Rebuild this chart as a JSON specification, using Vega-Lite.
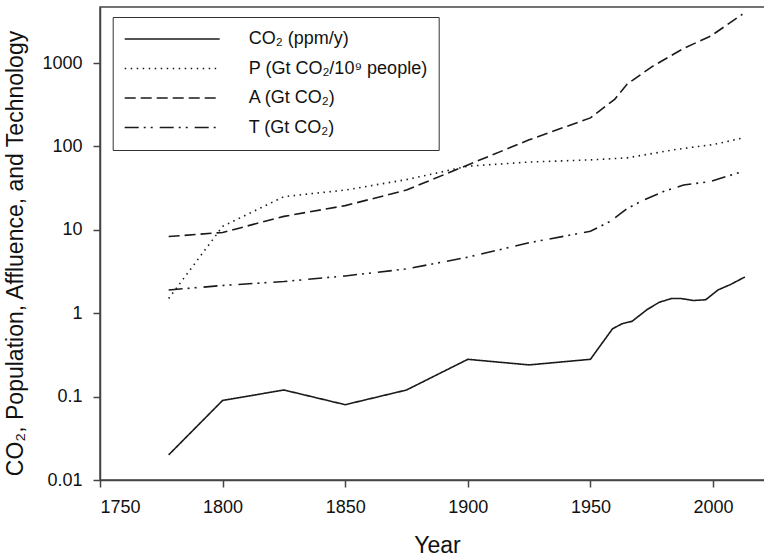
{
  "$schema": "https://vega.github.io/schema/vega-lite/v6.json",
  "autosize": "none",
  "padding": {"left": 100, "top": 7, "right": 0, "bottom": 77},
  "width": 665,
  "height": 473,
  "config": {
    "font": "Liberation Sans",
    "view": {"stroke": "#444", "strokeWidth": 1.5},
    "axis": {"grid": false, "domainColor": "#444", "domainWidth": 1.5, "tickColor": "#444", "tickWidth": 1.5, "tickSize": 7, "labelFontSize": 18, "labelColor": "#111", "titleColor": "#111", "titleFontWeight": "normal", "titleFontSize": 23, "labelFont": "Liberation Sans", "titleFont": "Liberation Sans"}
  },
  "data": {
    "values": [
      {"series": "CO₂ (ppm/y)", "year": 1778, "value": 0.02},
      {"series": "CO₂ (ppm/y)", "year": 1800, "value": 0.09},
      {"series": "CO₂ (ppm/y)", "year": 1825, "value": 0.12},
      {"series": "CO₂ (ppm/y)", "year": 1850, "value": 0.08},
      {"series": "CO₂ (ppm/y)", "year": 1875, "value": 0.12},
      {"series": "CO₂ (ppm/y)", "year": 1900, "value": 0.28},
      {"series": "CO₂ (ppm/y)", "year": 1925, "value": 0.24},
      {"series": "CO₂ (ppm/y)", "year": 1950, "value": 0.28},
      {"series": "CO₂ (ppm/y)", "year": 1959, "value": 0.65},
      {"series": "CO₂ (ppm/y)", "year": 1963, "value": 0.75},
      {"series": "CO₂ (ppm/y)", "year": 1967, "value": 0.8},
      {"series": "CO₂ (ppm/y)", "year": 1973, "value": 1.1},
      {"series": "CO₂ (ppm/y)", "year": 1978, "value": 1.35},
      {"series": "CO₂ (ppm/y)", "year": 1983, "value": 1.5},
      {"series": "CO₂ (ppm/y)", "year": 1987, "value": 1.5},
      {"series": "CO₂ (ppm/y)", "year": 1992, "value": 1.42},
      {"series": "CO₂ (ppm/y)", "year": 1997, "value": 1.45},
      {"series": "CO₂ (ppm/y)", "year": 2002, "value": 1.9},
      {"series": "CO₂ (ppm/y)", "year": 2007, "value": 2.2},
      {"series": "CO₂ (ppm/y)", "year": 2013, "value": 2.72},
      {"series": "P (Gt CO₂/10⁹ people)", "year": 1778, "value": 1.5},
      {"series": "P (Gt CO₂/10⁹ people)", "year": 1800, "value": 11},
      {"series": "P (Gt CO₂/10⁹ people)", "year": 1825, "value": 25},
      {"series": "P (Gt CO₂/10⁹ people)", "year": 1850, "value": 30},
      {"series": "P (Gt CO₂/10⁹ people)", "year": 1875, "value": 40},
      {"series": "P (Gt CO₂/10⁹ people)", "year": 1900, "value": 58},
      {"series": "P (Gt CO₂/10⁹ people)", "year": 1925, "value": 65},
      {"series": "P (Gt CO₂/10⁹ people)", "year": 1950, "value": 69},
      {"series": "P (Gt CO₂/10⁹ people)", "year": 1965, "value": 73},
      {"series": "P (Gt CO₂/10⁹ people)", "year": 1975, "value": 82},
      {"series": "P (Gt CO₂/10⁹ people)", "year": 1985, "value": 92},
      {"series": "P (Gt CO₂/10⁹ people)", "year": 1994, "value": 100},
      {"series": "P (Gt CO₂/10⁹ people)", "year": 2000, "value": 105},
      {"series": "P (Gt CO₂/10⁹ people)", "year": 2012, "value": 126},
      {"series": "A (Gt CO₂)", "year": 1778, "value": 8.3},
      {"series": "A (Gt CO₂)", "year": 1800, "value": 9.3},
      {"series": "A (Gt CO₂)", "year": 1825, "value": 14.5},
      {"series": "A (Gt CO₂)", "year": 1850, "value": 19.5},
      {"series": "A (Gt CO₂)", "year": 1875, "value": 30},
      {"series": "A (Gt CO₂)", "year": 1900, "value": 60},
      {"series": "A (Gt CO₂)", "year": 1925, "value": 120},
      {"series": "A (Gt CO₂)", "year": 1950, "value": 220},
      {"series": "A (Gt CO₂)", "year": 1960, "value": 370},
      {"series": "A (Gt CO₂)", "year": 1965, "value": 560},
      {"series": "A (Gt CO₂)", "year": 1975, "value": 900},
      {"series": "A (Gt CO₂)", "year": 1988, "value": 1500},
      {"series": "A (Gt CO₂)", "year": 1999, "value": 2100},
      {"series": "A (Gt CO₂)", "year": 2012, "value": 3850},
      {"series": "T (Gt CO₂)", "year": 1778, "value": 1.9},
      {"series": "T (Gt CO₂)", "year": 1800, "value": 2.15},
      {"series": "T (Gt CO₂)", "year": 1825, "value": 2.4},
      {"series": "T (Gt CO₂)", "year": 1850, "value": 2.8},
      {"series": "T (Gt CO₂)", "year": 1875, "value": 3.4},
      {"series": "T (Gt CO₂)", "year": 1900, "value": 4.7},
      {"series": "T (Gt CO₂)", "year": 1925, "value": 7.0},
      {"series": "T (Gt CO₂)", "year": 1950, "value": 9.6},
      {"series": "T (Gt CO₂)", "year": 1958, "value": 12.6},
      {"series": "T (Gt CO₂)", "year": 1965, "value": 18},
      {"series": "T (Gt CO₂)", "year": 1972, "value": 23},
      {"series": "T (Gt CO₂)", "year": 1980, "value": 29},
      {"series": "T (Gt CO₂)", "year": 1988, "value": 34.5},
      {"series": "T (Gt CO₂)", "year": 1999, "value": 38},
      {"series": "T (Gt CO₂)", "year": 2012, "value": 50}
    ]
  },
  "mark": {"type": "line", "color": "#1a1a1a", "strokeWidth": 1.6},
  "encoding": {
    "x": {
      "field": "year", "type": "quantitative",
      "scale": {"domain": [1750, 2021.2], "nice": false, "zero": false},
      "axis": {"values": [1750, 1800, 1850, 1900, 1950, 2000], "format": "d", "labelPadding": 11, "title": "Year", "titlePadding": 18, "titleX": 337, "titleAlign": "center"}
    },
    "y": {
      "field": "value", "type": "quantitative",
      "scale": {"type": "log", "domain": [0.01, 4700], "nice": false},
      "axis": {"values": [0.01, 0.1, 1, 10, 100, 1000], "labelExpr": "'' + datum.value", "labelPadding": 11, "title": "CO₂, Population, Affluence, and Technology", "titlePadding": 14, "titleY": 246, "titleAlign": "center"}
    },
    "strokeDash": {
      "field": "series", "type": "nominal",
      "scale": {
        "domain": ["CO₂ (ppm/y)", "P (Gt CO₂/10⁹ people)", "A (Gt CO₂)", "T (Gt CO₂)"],
        "range": [[1, 0], [1.5, 4.5], [11, 5], [14, 5, 2, 5, 2, 7]]
      },
      "legend": {
        "title": null, "orient": "none", "legendX": 12.7, "legendY": 10,
        "symbolType": "stroke", "symbolSize": 9025, "symbolStrokeWidth": 1.6, "symbolStrokeColor": "#1a1a1a",
        "clipHeight": 22, "rowPadding": 7.5, "labelOffset": 28, "labelFontSize": 18, "labelLimit": 400, "labelColor": "#111", "labelFont": "Liberation Sans",
        "padding": 11, "strokeColor": "#333", "fillColor": "white"
      }
    }
  }
}
